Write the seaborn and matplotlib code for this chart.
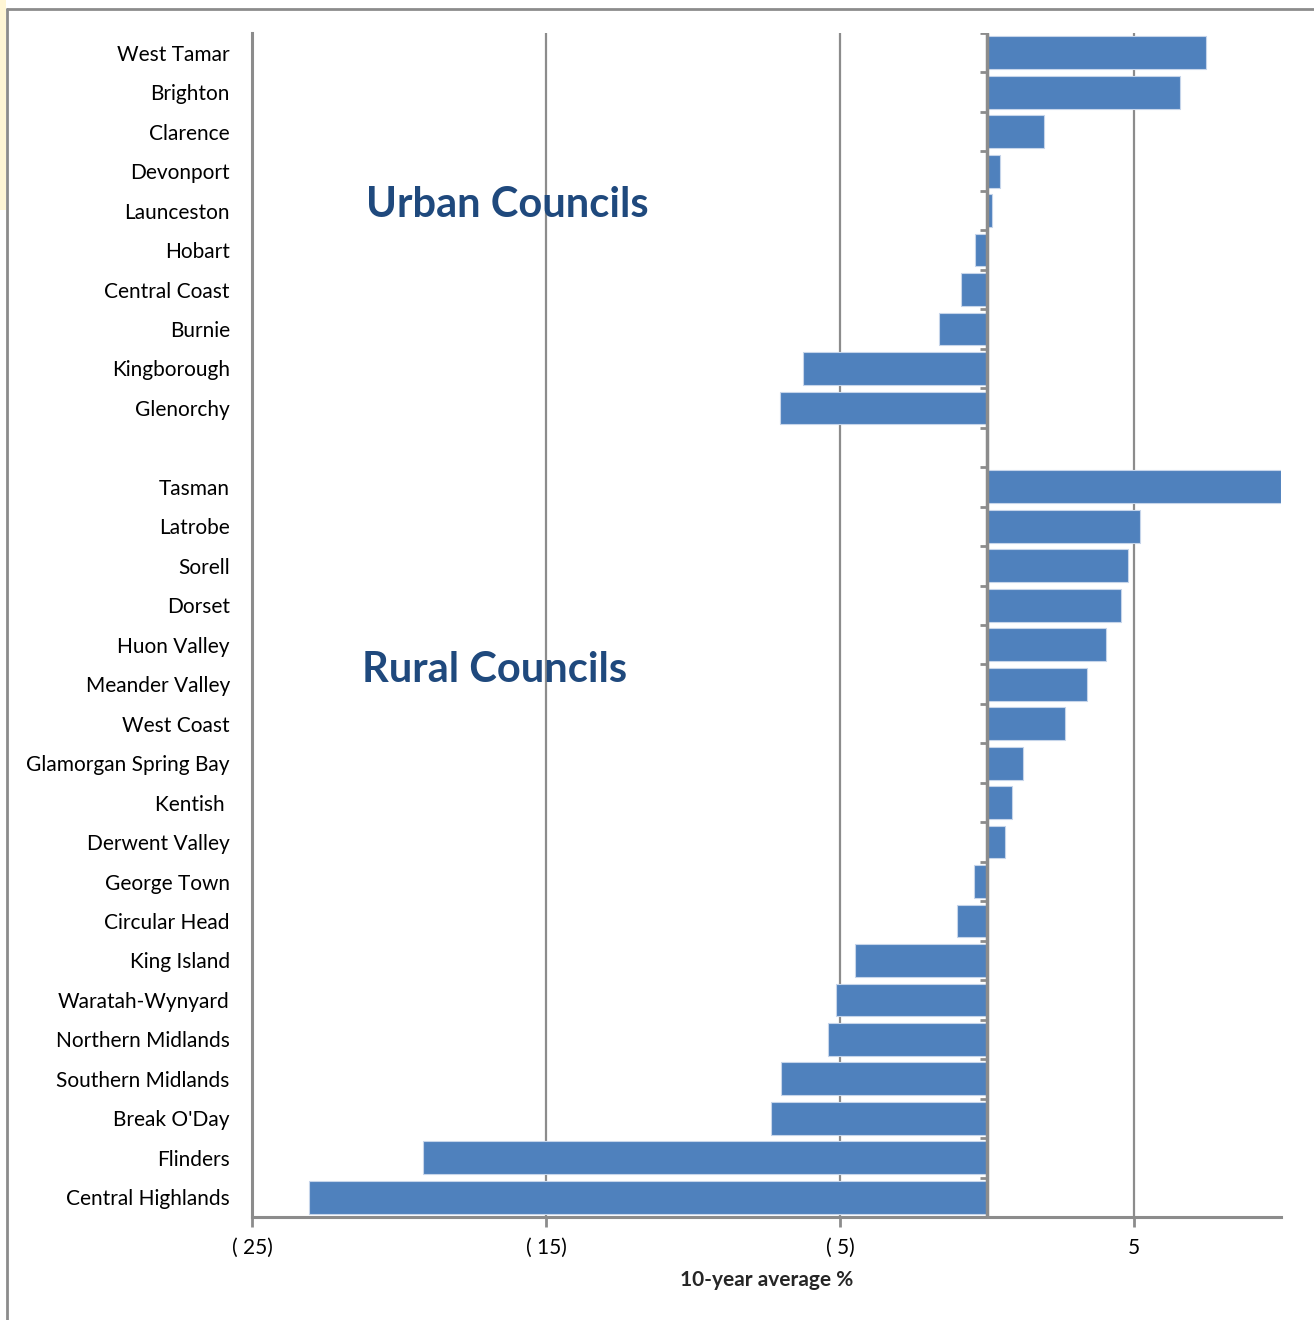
import numpy as np
import pandas as pd
import seaborn as sns
import matplotlib.pyplot as plt
from matplotlib.lines import Line2D
from matplotlib.patches import Rectangle

# councils, top to bottom
urban = ["West Tamar", "Brighton", "Clarence", "Devonport", "Launceston",
         "Hobart", "Central Coast", "Burnie", "Kingborough", "Glenorchy"]
urban_avg = [7.45, 6.55, 1.95, 0.45, 0.18, -0.42, -0.88, -1.63, -6.25, -7.03]

rural = ["Tasman", "Latrobe", "Sorell", "Dorset", "Huon Valley", "Meander Valley",
         "West Coast", "Glamorgan Spring Bay", "Kentish ", "Derwent Valley",
         "George Town", "Circular Head", "King Island", "Waratah-Wynyard",
         "Northern Midlands", "Southern Midlands", "Break O'Day", "Flinders",
         "Central Highlands"]
rural_avg = [10.0, 5.2, 4.8, 4.56, 4.04, 3.4, 2.65, 1.23, 0.86, 0.62,
             -0.44, -1.02, -4.5, -5.13, -5.4, -7.0, -7.33, -19.17, -23.07]

x_ticks = [-25, -15, -5, 5]
x_labels = ["( 25)", "( 15)", "( 5)", "5"]

df = pd.DataFrame({"council": urban + rural, "avg": urban_avg + rural_avg})
order = urban + [" "] + rural

sns.set_theme(style="white")
plt.rcParams["font.family"] = ["Lato", "DejaVu Sans"]

grey = "#8c8c8c"
fig = plt.figure(figsize=(13.14, 13.2), dpi=100)
ax = fig.add_axes([252 / 1314, 1 - 1217 / 1320, (1281 - 252) / 1314, (1217 - 33) / 1320])

sns.barplot(data=df, x="avg", y="council", order=order, orient="h",
            color="#4F81BD", saturation=1, width=0.83,
            edgecolor="#c6d5ea", linewidth=0.8, ax=ax, zorder=3)

ax.set_xlim(-25, 10)
ax.set_ylim(len(order) - 0.5, -0.5)
ax.set_xticks(x_ticks)
ax.set_xticklabels(x_labels)
ax.grid(axis="x", color=grey, lw=1.6, zorder=0)
ax.grid(axis="y", visible=False)
ax.set_axisbelow(True)

# zero axis with category ticks
ax.axvline(0, color=grey, lw=2.5, zorder=4)
ax.hlines(np.arange(len(order) + 1) - 0.5, -0.24, 0, color=grey, lw=2, zorder=4)

for s in ["top", "right"]:
    ax.spines[s].set_visible(False)
for s in ["left", "bottom"]:
    ax.spines[s].set_color(grey)
    ax.spines[s].set_linewidth(2.2)

ax.tick_params(axis="y", length=0, pad=16, labelsize=15, colors="black")
ax.tick_params(axis="x", length=7, width=2, color=grey, direction="out",
               pad=8, labelsize=15, colors="black")
ax.xaxis.set_ticks_position("bottom")
ax.set_ylabel("")
ax.set_xlabel("10-year average %", fontsize=15, fontweight="bold", labelpad=9)

ax.text(-16.3, 3.85, "Urban Councils", ha="center", va="center", fontsize=30,
        fontweight="bold", color="#1F497D", zorder=5)
ax.text(-16.75, 15.65, "Rural Councils", ha="center", va="center", fontsize=30,
        fontweight="bold", color="#1F497D", zorder=5)

# outer frame of the original screenshot
fig.add_artist(Rectangle((0, 1 - 210 / 1320), 6 / 1314, 210 / 1320,
                         transform=fig.transFigure, color="#fff6d5", lw=0))
fig.add_artist(Line2D([7 / 1314, 1], [1 - 9 / 1320, 1 - 9 / 1320],
                      transform=fig.transFigure, color=grey, lw=2))
fig.add_artist(Line2D([7 / 1314, 7 / 1314], [0, 1 - 9 / 1320],
                      transform=fig.transFigure, color=grey, lw=2))

fig.savefig("out.png", dpi=100)
